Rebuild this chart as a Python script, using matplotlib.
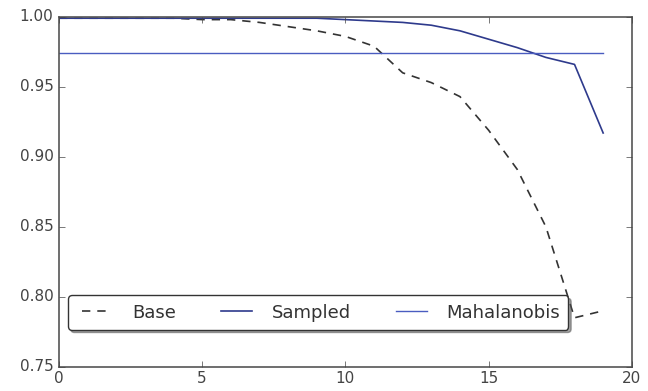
import numpy as np
import matplotlib
matplotlib.use("Agg")
import matplotlib.pyplot as plt

# values
steps = list(range(20))
base = [0.999, 0.999, 0.999, 0.999, 0.999, 0.998, 0.998, 0.996, 0.993, 0.990,
        0.986, 0.979, 0.960, 0.953, 0.943, 0.919, 0.891, 0.850, 0.785, 0.790]
sampled = [0.999, 0.999, 0.999, 0.999, 0.999, 0.999, 0.999, 0.999, 0.999, 0.999,
           0.998, 0.997, 0.996, 0.994, 0.990, 0.984, 0.978, 0.971, 0.966, 0.917]
mahalanobis = 0.9745

plt.style.use("classic")
plt.rcParams["font.family"] = "DejaVu Sans"

fig = plt.figure(figsize=(6.48, 3.91), dpi=100)
ax = fig.add_axes([0.091, 0.062, 0.884, 0.895])

ax.plot(steps, base, color="#333333", linestyle="--", linewidth=1.2, dashes=(6, 5), label="Base")
ax.plot(steps, sampled, color="#2e3a8c", linewidth=1.2, label="Sampled")
ax.plot(steps, [mahalanobis] * len(steps), color="#4a5cc0", linewidth=1.0, label="Mahalanobis")

ax.set_xlim(0, 20)
ax.set_ylim(0.75, 1.0)
ax.set_xticks([0, 5, 10, 15, 20])
ax.set_yticks([0.75, 0.80, 0.85, 0.90, 0.95, 1.00])
ax.tick_params(labelsize=11, colors="#444444")
ax.tick_params(axis="x", pad=3)
for s in ax.spines.values():
    s.set_color("#555555")
    s.set_linewidth(1.2)

leg = ax.legend(loc="lower left", bbox_to_anchor=(0.0, 0.08), ncol=3, fancybox=True,
                shadow=True, fontsize=13, columnspacing=2.2, handlelength=2.3,
                borderpad=0.45)
leg.get_frame().set_edgecolor("#333333")
for t in leg.get_texts():
    t.set_color("#333333")

fig.savefig("out.png", dpi=100)
